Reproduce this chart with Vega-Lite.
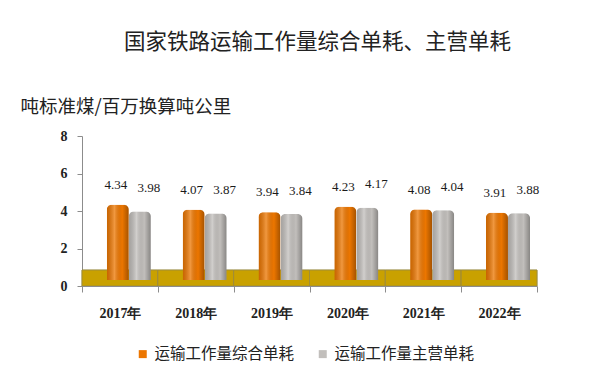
{
  "$schema": "https://vega.github.io/schema/vega-lite/v6.json",
  "width": 455,
  "height": 150,
  "autosize": {"type": "none"},
  "padding": {"left": 82, "top": 136, "right": 63, "bottom": 98},
  "background": "#ffffff",
  "title": {
    "text": "国家铁路运输工作量综合单耗、主营单耗",
    "font": "Noto Sans CJK SC",
    "fontSize": 21.5,
    "fontWeight": "normal",
    "color": "#222222",
    "anchor": "middle",
    "frame": "group",
    "dx": 8,
    "offset": 44
  },
  "data": {
    "values": [
      {"year": "2017年", "series": "运输工作量综合单耗", "value": 4.34},
      {"year": "2017年", "series": "运输工作量主营单耗", "value": 3.98},
      {"year": "2018年", "series": "运输工作量综合单耗", "value": 4.07},
      {"year": "2018年", "series": "运输工作量主营单耗", "value": 3.87},
      {"year": "2019年", "series": "运输工作量综合单耗", "value": 3.94},
      {"year": "2019年", "series": "运输工作量主营单耗", "value": 3.84},
      {"year": "2020年", "series": "运输工作量综合单耗", "value": 4.23},
      {"year": "2020年", "series": "运输工作量主营单耗", "value": 4.17},
      {"year": "2021年", "series": "运输工作量综合单耗", "value": 4.08},
      {"year": "2021年", "series": "运输工作量主营单耗", "value": 4.04},
      {"year": "2022年", "series": "运输工作量综合单耗", "value": 3.91},
      {"year": "2022年", "series": "运输工作量主营单耗", "value": 3.88}
    ]
  },
  "encoding": {
    "x": {
      "field": "year",
      "type": "nominal",
      "sort": null,
      "scale": {"paddingInner": 0, "paddingOuter": 0},
      "axis": {
        "title": null,
        "labelAngle": 0,
        "tickBand": "extent",
        "labelFont": "Liberation Serif",
        "labelFontSize": 14,
        "labelFontWeight": "bold",
        "labelColor": "#222222",
        "labelPadding": 14,
        "tickSize": 6,
        "tickColor": "#8c8c8c",
        "domainColor": "#8c8c8c",
        "grid": false
      }
    }
  },
  "layer": [
    {
      "mark": {"type": "rect", "color": "#C9A100", "stroke": "#9a8a40", "strokeWidth": 0.8},
      "encoding": {
        "y": {
          "datum": 0.85,
          "type": "quantitative",
          "scale": {"domain": [0, 8], "nice": false},
          "axis": {
            "title": "吨标准煤/百万换算吨公里",
            "values": [0, 2, 4, 6, 8],
            "tickCount": 5,
            "labelOverlap": false
          }
        },
        "y2": {"datum": 0}
      }
    },
    {
      "mark": {
        "type": "bar",
        "yOffset": -6,
        "cornerRadiusTopLeft": 5,
        "cornerRadiusTopRight": 5,
        "cornerRadiusBottomLeft": 5,
        "cornerRadiusBottomRight": 5
      },
      "encoding": {
        "xOffset": {
          "field": "series",
          "sort": ["运输工作量综合单耗", "运输工作量主营单耗"],
          "scale": {"paddingInner": 0, "paddingOuter": 0.72, "align": 0.78}
        },
        "y": {
          "field": "value",
          "type": "quantitative",
          "axis": {
            "title": "吨标准煤/百万换算吨公里",
            "values": [0, 2, 4, 6, 8],
            "tickCount": 5,
            "labelOverlap": false
          }
        },
        "color": {
          "field": "series",
          "type": "nominal",
          "sort": ["运输工作量综合单耗", "运输工作量主营单耗"],
          "scale": {"range": ["#EC7600", "#C2BFBC"]},
          "legend": {
            "title": null,
            "orient": "none",
            "direction": "horizontal",
            "legendX": 53,
            "legendY": 210,
            "padding": 0,
            "symbolType": "square",
            "symbolSize": 64,
            "symbolStrokeWidth": 0,
            "labelFont": "Noto Sans CJK SC",
            "labelFontSize": 15.5,
            "labelColor": "#222222",
            "labelOffset": 4,
            "columnPadding": 20
          }
        }
      }
    },
    {
      "mark": {
        "type": "bar",
        "yOffset": -6,
        "cornerRadiusTopLeft": 5,
        "cornerRadiusTopRight": 5,
        "cornerRadiusBottomLeft": 5,
        "cornerRadiusBottomRight": 5,
        "fill": {
          "gradient": "linear",
          "x1": 0, "x2": 1, "y1": 0, "y2": 0,
          "stops": [
            {"offset": 0, "color": "rgba(0,0,0,0.15)"},
            {"offset": 0.35, "color": "rgba(255,255,255,0.25)"},
            {"offset": 0.7, "color": "rgba(0,0,0,0.0)"},
            {"offset": 1, "color": "rgba(0,0,0,0.3)"}
          ]
        }
      },
      "encoding": {
        "xOffset": {"field": "series", "sort": ["运输工作量综合单耗", "运输工作量主营单耗"]},
        "y": {"field": "value", "type": "quantitative"}
      }
    },
    {
      "transform": [{"filter": "datum.series === '运输工作量综合单耗'"}],
      "mark": {"type": "text", "font": "Liberation Serif", "fontSize": 13, "color": "#1a1a1a", "baseline": "middle", "dy": -20, "dx": -2},
      "encoding": {
        "xOffset": {"field": "series", "sort": ["运输工作量综合单耗", "运输工作量主营单耗"]},
        "y": {"field": "value", "type": "quantitative"},
        "text": {"field": "value", "type": "quantitative", "format": ".2f"}
      }
    },
    {
      "transform": [{"filter": "datum.series === '运输工作量主营单耗'"}],
      "mark": {"type": "text", "font": "Liberation Serif", "fontSize": 13, "color": "#1a1a1a", "baseline": "middle", "dy": -23.5, "dx": 9},
      "encoding": {
        "xOffset": {"field": "series", "sort": ["运输工作量综合单耗", "运输工作量主营单耗"]},
        "y": {"field": "value", "type": "quantitative"},
        "text": {"field": "value", "type": "quantitative", "format": ".2f"}
      }
    }
  ],
  "config": {
    "view": {"stroke": null},
    "axisY": {
      "labelOverlap": false,
      "titleAngle": 0,
      "titleAlign": "left",
      "titleBaseline": "middle",
      "titleX": -62,
      "titleY": -30,
      "titleFont": "Noto Sans CJK SC",
      "titleFontSize": 18.5,
      "titleFontWeight": "normal",
      "titleColor": "#222222",
      "labelFont": "Liberation Serif",
      "labelFontSize": 14,
      "labelFontWeight": "bold",
      "labelColor": "#222222",
      "labelPadding": 10,
      "tickSize": 5,
      "tickColor": "#8c8c8c",
      "domainColor": "#8c8c8c",
      "grid": false
    }
  }
}
